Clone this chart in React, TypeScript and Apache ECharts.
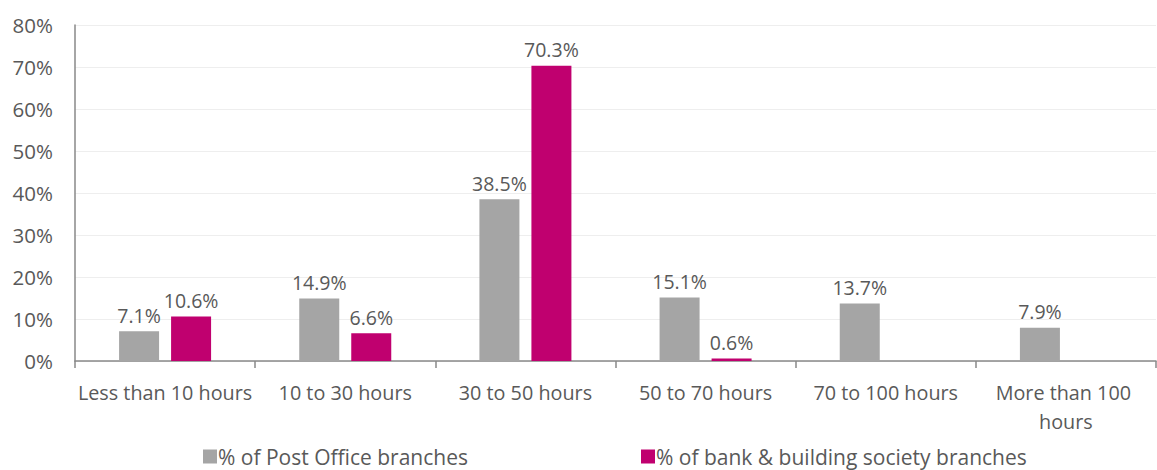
import React, { useEffect, useRef } from "react";
import * as echarts from "echarts";

const categories = [
  "Less than 10 hours",
  "10 to 30 hours",
  "30 to 50 hours",
  "50 to 70 hours",
  "70 to 100 hours",
  "More than 100 hours",
];
const postOffice = [7.1, 14.9, 38.5, 15.1, 13.7, 7.9];
const bankBranches: (number | null)[] = [10.6, 6.6, 70.3, 0.6, null, null];
const seriesNames = ["% of Post Office branches", "% of bank & building society branches"];
const yTicks = { min: 0, max: 80, interval: 10 };

const FONT = "'Open Sans', Lato, sans-serif";
const TEXT = "#595959";

export default function App() {
  const ref = useRef<HTMLDivElement>(null);
  useEffect(() => {
    if (!ref.current) return;
    const chart = echarts.init(ref.current, undefined, { renderer: "svg" });
    const label = {
      show: true,
      position: "top",
      distance: 6,
      color: TEXT,
      fontSize: 19.5,
      fontFamily: FONT,
      formatter: (p: any) => (p.value == null ? "" : p.value.toFixed(1) + "%"),
    };
    const legendText = { color: TEXT, fontSize: 21, fontFamily: FONT, padding: [0, 0, 0, -4] };
    chart.setOption({
      animation: false,
      textStyle: { fontFamily: FONT },
      grid: { left: 75, right: -10, top: 25, bottom: 109, containLabel: false },
      legend: [
        {
          data: [seriesNames[0]],
          left: 198,
          top: 441,
          itemWidth: 14,
          itemHeight: 14,
          icon: "rect",
          textStyle: legendText,
        },
        {
          data: [seriesNames[1]],
          left: 636,
          top: 441,
          itemWidth: 14,
          itemHeight: 14,
          icon: "rect",
          textStyle: legendText,
        },
      ],
      xAxis: {
        type: "category",
        data: categories,
        axisLine: { lineStyle: { color: "#898989", width: 1.5 } },
        axisTick: { show: true, length: 7, lineStyle: { color: "#898989", width: 1.5 } },
        axisLabel: {
          color: TEXT,
          fontSize: 19.8,
          fontFamily: FONT,
          margin: 17,
          interval: 0,
          width: 178,
          overflow: "break",
          lineHeight: 29,
        },
      },
      yAxis: {
        type: "value",
        min: yTicks.min,
        max: yTicks.max,
        interval: yTicks.interval,
        axisLine: { show: true, lineStyle: { color: "#898989", width: 1.5 } },
        axisTick: { show: false },
        splitLine: { lineStyle: { color: "#eeeeee", width: 1 } },
        axisLabel: {
          color: TEXT,
          fontSize: 20.5,
          fontFamily: FONT,
          margin: 22,
          formatter: "{value}%",
        },
      },
      series: [
        {
          name: seriesNames[0],
          type: "bar",
          data: postOffice,
          barWidth: 40,
          barGap: "30%",
          itemStyle: { color: "#a5a5a5" },
          label,
        },
        {
          name: seriesNames[1],
          type: "bar",
          data: bankBranches,
          barWidth: 40,
          itemStyle: { color: "#c0006f" },
          label,
        },
      ],
    });
    return () => chart.dispose();
  }, []);
  return (
    <div
      ref={ref}
      style={{ position: "absolute", left: 0, top: 0, width: 1157, height: 470, background: "#fff" }}
    />
  );
}
